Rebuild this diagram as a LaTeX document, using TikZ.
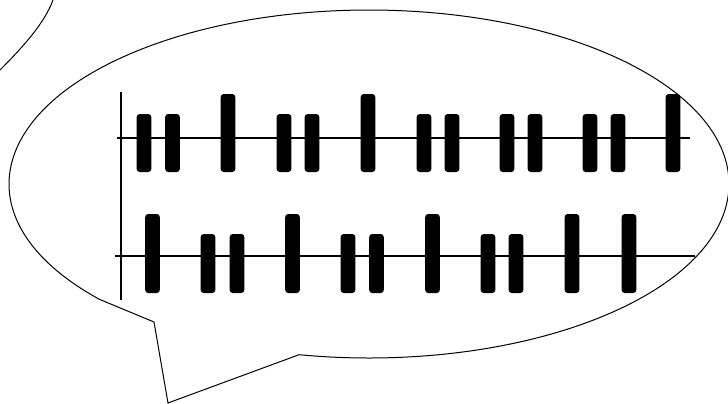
\documentclass[tikz,border=0pt]{standalone}
\usepackage{tikz}
\tikzset{bar/.style={fill=black,rounded corners=1.5pt}}

\begin{document}
\begin{tikzpicture}[x=0.5pt,y=0.5pt]
	\useasboundingbox (0,0) rectangle (728,403);
	%% bubbles
	\draw[line width=0.5pt] (0,333) .. controls (25,358) and (45,381) .. (53,403);
	\draw[line width=0.5pt] (168,0) -- (154,81) -- (99.4,103.7)
		arc[start angle=221.5,end angle=-101.2,x radius=360,y radius=174] -- cycle;
	%% axis
	\draw[line width=0.7pt] (121,103) -- (121,311);
	\draw[line width=0.7pt] (117,265) -- (690,265);
	\draw[line width=0.7pt] (115,147) -- (695,147);
	%% upper row
	\foreach \x in {144,172.5,284,312,424,452,507,535,590,618}
		\fill[bar] (\x-7.3,231) rectangle (\x+7.3,289);
	\foreach \x in {228,368,673}
		\fill[bar] (\x-7.3,231) rectangle (\x+7.3,309);
	%% lower row
	\foreach \x in {208,237,348,376.5,488,516}
		\fill[bar] (\x-7.3,110) rectangle (\x+7.3,169);
	\foreach \x in {152.5,292.5,432.5,572,629}
		\fill[bar] (\x-7.3,110) rectangle (\x+7.3,189);
\end{tikzpicture}
\end{document}
